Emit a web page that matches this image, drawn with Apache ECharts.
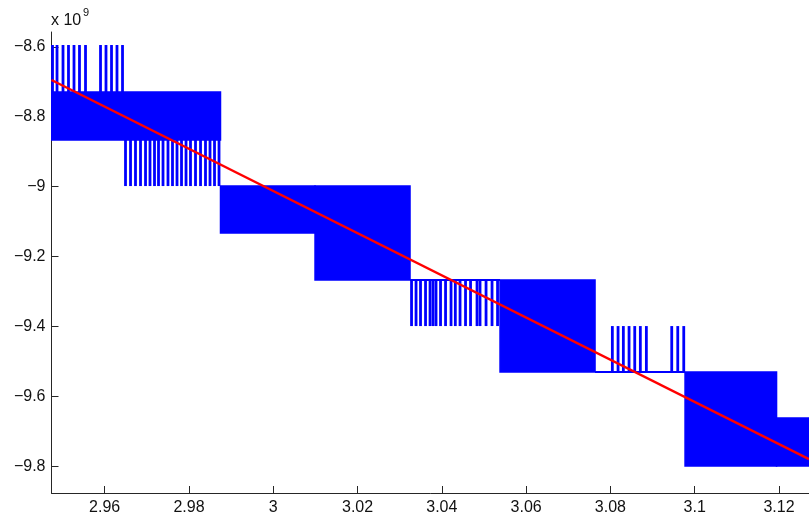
<!DOCTYPE html>
<html>
<head>
<meta charset="utf-8">
<script src="https://cdn.jsdelivr.net/npm/echarts@6/dist/echarts.min.js"></script>
<style>
  html, body { margin: 0; padding: 0; background: #fff; }
  #graph { width: 809px; height: 517px; }
</style>
</head>
<body>
<div id="graph"></div>
<script>
// quantised signal levels (x 10^9)
const levels = [-8.5943, -8.7289, -8.8663, -8.9981, -9.1326, -9.2672, -9.3990, -9.5307, -9.6624, -9.7999];

// dense blocks: [xStart, xEnd, top, bottom]
const bands = [
  [2.94738, 2.98748, levels[1], levels[2]],
  [2.98748, 3.00991, levels[3], levels[4]],
  [3.00991, 3.03245, levels[3], levels[5]],
  [3.05381, 3.07635, levels[5], levels[7]],
  [3.09771, 3.11942, levels[7], levels[9]],
  [3.11942, 3.12712, levels[8], levels[9]]
];

// flat stretches: [xStart, xEnd, level]
const flats = [
  [3.03245, 3.05381, levels[5]],
  [3.07635, 3.09771, levels[7]]
];

// single spikes, x positions
const spikesUpA = [2.94762, 2.94869, 2.95011, 2.95141, 2.95272, 2.95402, 2.95545,
  2.95901, 2.96031, 2.96162, 2.96292, 2.96423];
const spikesDownA = [2.96494, 2.96613, 2.96731, 2.96850, 2.96969, 2.97075, 2.97182,
  2.97277, 2.97384, 2.97502, 2.97609, 2.97716, 2.97823, 2.97930, 2.98036, 2.98155,
  2.98274, 2.98392, 2.98499, 2.98606, 2.98713];
const spikesDownB = [3.03281, 3.03388, 3.03494, 3.03613, 3.03720, 3.03791, 3.03862,
  3.03969, 3.04088, 3.04218, 3.04320, 3.04432, 3.04562, 3.04681, 3.04835, 3.04906,
  3.05049, 3.05191, 3.05322];
const spikesUpB = [3.08046, 3.08181, 3.08307, 3.08442, 3.08577, 3.08710, 3.08853,
  3.09455, 3.09598, 3.09740];

// linear fit
const fitX = [2.94738, 3.12712];
const fitY = [-8.6945, -9.7799];

const xTicks = [2.96, 2.98, 3, 3.02, 3.04, 3.06, 3.08, 3.1, 3.12];
const yTicks = [-9.8, -9.6, -9.4, -9.2, -9, -8.8, -8.6];

const blue = '#0000ff';
const spikeData = [];
spikesUpA.forEach(x => spikeData.push([x, levels[1], levels[0]]));
spikesDownA.forEach(x => spikeData.push([x, levels[2], levels[3]]));
spikesDownB.forEach(x => spikeData.push([x, levels[5], levels[6]]));
spikesUpB.forEach(x => spikeData.push([x, levels[7], levels[6]]));

const chart = echarts.init(document.getElementById('graph'));
const labelFont = { fontFamily: 'Liberation Sans', fontSize: 16, color: '#111' };

chart.setOption({
  animation: false,
  backgroundColor: '#fff',
  grid: { left: 51.5, right: 0, top: 32, bottom: 24, containLabel: false, outerBoundsMode: 'none' },
  xAxis: {
    type: 'value',
    min: fitX[0],
    max: fitX[1],
    splitLine: { show: false },
    axisLine: { show: true, onZero: false, lineStyle: { color: '#262626', width: 1 } },
    axisTick: { show: true, inside: true, length: 7, customValues: xTicks, lineStyle: { color: '#262626' } },
    axisLabel: Object.assign({ margin: 7, customValues: xTicks, formatter: v => String(v) }, labelFont)
  },
  yAxis: {
    type: 'value',
    min: -9.877,
    max: -8.557,
    splitLine: { show: false },
    axisLine: { show: true, onZero: false, lineStyle: { color: '#262626', width: 1 } },
    axisTick: { show: true, inside: true, length: 7, customValues: yTicks, lineStyle: { color: '#262626' } },
    axisLabel: Object.assign({ margin: 6, customValues: yTicks, formatter: v => String(v).replace('-', '\u2212') }, labelFont)
  },
  graphic: [
    { type: 'text', x: 51, y: 21, style: { text: 'x 10', font: '16px "Liberation Sans"', fill: '#111', verticalAlign: 'middle' } },
    { type: 'text', x: 83, y: 13, style: { text: '9', font: '11px "Liberation Sans"', fill: '#111', verticalAlign: 'middle' } }
  ],
  series: [
    {
      type: 'custom',
      clip: true,
      data: bands,
      encode: { x: [0, 1], y: [2, 3] },
      renderItem: function (params, api) {
        const a = api.coord([api.value(0), api.value(2)]);
        const b = api.coord([api.value(1), api.value(3)]);
        return {
          type: 'rect',
          shape: { x: a[0], y: a[1], width: b[0] - a[0], height: b[1] - a[1] },
          style: { fill: blue, stroke: blue, lineWidth: 1.5 }
        };
      }
    },
    {
      type: 'custom',
      clip: true,
      data: flats,
      encode: { x: [0, 1], y: 2 },
      renderItem: function (params, api) {
        const a = api.coord([api.value(0), api.value(2)]);
        const b = api.coord([api.value(1), api.value(2)]);
        return {
          type: 'line',
          shape: { x1: a[0], y1: a[1], x2: b[0], y2: b[1] },
          style: { stroke: blue, lineWidth: 2 }
        };
      }
    },
    {
      type: 'custom',
      clip: true,
      data: spikeData,
      encode: { x: 0, y: [1, 2] },
      renderItem: function (params, api) {
        const a = api.coord([api.value(0), api.value(1)]);
        const b = api.coord([api.value(0), api.value(2)]);
        return {
          type: 'line',
          shape: { x1: a[0], y1: a[1], x2: b[0], y2: b[1] },
          style: { stroke: blue, lineWidth: 2.8 }
        };
      }
    },
    {
      type: 'line',
      data: fitX.map((x, i) => [x, fitY[i]]),
      showSymbol: false,
      symbol: 'none',
      lineStyle: { color: '#ff0000', width: 2.4 },
      z: 5
    }
  ]
});
</script>
</body>
</html>
